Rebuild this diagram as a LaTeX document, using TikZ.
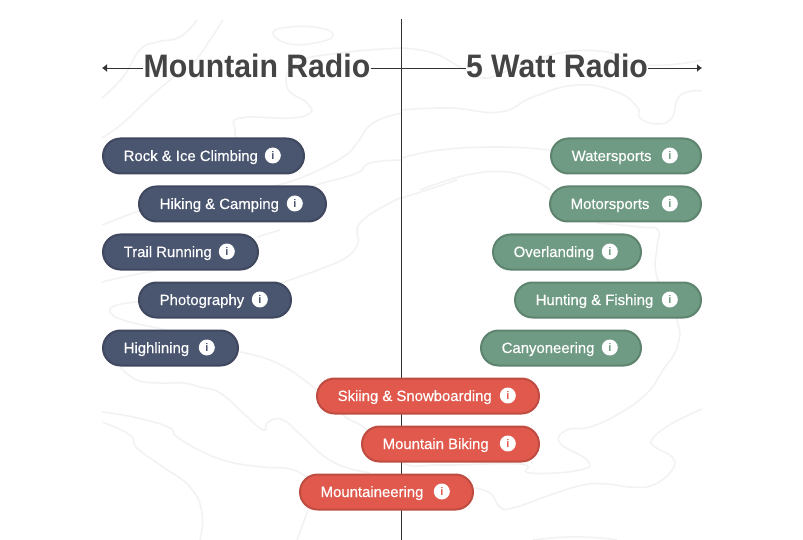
\documentclass[tikz,border=0pt]{standalone}
\usepackage{fontspec}
\setmainfont{Liberation Sans}
\newfontfamily\headfont[FakeStretch=0.93]{Liberation Sans}
\newfontfamily\pillfont[FakeBold=0.35]{Liberation Sans}
\usetikzlibrary{arrows.meta}
\usetikzlibrary{positioning}

\definecolor{pillblue}{HTML}{4A556F}
\definecolor{pillgreen}{HTML}{6F9A83}
\definecolor{pillred}{HTML}{E0594C}
\definecolor{titlegray}{HTML}{444444}
\definecolor{contourgray}{HTML}{F2F2F2}

\tikzset{
  contour/.style={draw=contourgray, line width=1.6pt, smooth, tension=0.8},
  heading/.style={inner sep=0pt, text=titlegray, font=\headfont\fontsize{32.5}{36}\selectfont\bfseries, text height=22pt, text depth=2pt},
  axis/.style={draw=black!80, line width=0.8pt},
  pill/.style={rounded corners=17.5pt, minimum height=35pt, inner sep=0pt, outer sep=0pt, line width=2pt},
  pilltext/.style={inner sep=0pt, text=white, font=\pillfont\fontsize{14.9}{16}\selectfont, text height=11pt, text depth=1pt},
  infodot/.style={circle, fill=white, minimum size=16pt, inner sep=0pt, font=\fontsize{11}{11}\selectfont\bfseries}
}

\begin{document}
\begin{tikzpicture}[x=1pt, y=-1pt]
  \useasboundingbox (0,0) rectangle (803,540);

  % map lines behind everything
  \begin{scope}
    \clip (102,0) rectangle (702,540);
    \draw[contour] plot coordinates {(102,98) (123,77) (140,50) (157,42) (180,37) (197,20)};
    \draw[contour] plot coordinates {(102,138) (123,123) (147,100) (170,80) (193,63) (210,40) (223,20)};
    \draw[contour] plot[smooth cycle] coordinates {(273,33) (290,27) (320,28) (333,35) (320,42) (290,44)};
    \draw[contour] plot coordinates {(402,48) (340,53) (297,63) (287,87) (307,103) (310,113) (290,118) (240,118) (235,130) (237,145)};
    \draw[contour] plot coordinates {(402,113) (373,123) (357,143) (343,157) (303,177) (270,187)};
    \draw[contour] plot coordinates {(402,160) (370,163) (357,173) (323,183) (300,190)};
    \draw[contour] plot coordinates {(402,48) (433,53) (460,67) (483,78) (510,70) (560,53) (607,52) (633,63) (667,65) (702,60)};
    \draw[contour] plot coordinates {(402,110) (450,108) (500,112) (533,97) (577,85) (617,92) (637,107) (640,118) (657,124) (672,118) (677,100) (687,92) (702,91)};
    \draw[contour] plot coordinates {(402,158) (440,150) (500,147) (550,150)};
    \draw[contour] plot coordinates {(420,190) (467,175) (507,172) (533,180) (550,190)};
    \draw[contour] plot coordinates {(402,198) (433,188) (457,180)};
    \draw[contour] plot coordinates {(102,225) (133,213) (150,207)};
    \draw[contour] plot coordinates {(280,230) (257,237)};
    \draw[contour] plot coordinates {(402,197) (377,210) (360,223) (357,233) (358,243) (347,257) (323,268) (290,280) (270,287)};
    \draw[contour] plot coordinates {(102,282) (133,275) (160,270)};
    \draw[contour] plot coordinates {(138,302) (117,305) (110,312) (123,320) (157,328) (170,331)};
    \draw[contour] plot coordinates {(240,352) (277,363) (313,387) (343,415) (367,430) (400,462) (443,465) (520,464) (530,473) (580,470) (587,460) (560,443) (567,430) (590,427) (620,413) (647,393) (663,370) (677,347) (677,320) (657,277) (657,247) (658,230) (640,227) (597,223)};
    \draw[contour] plot coordinates {(120,367) (137,380) (160,383) (183,383) (200,387) (220,393) (243,413) (263,430) (268,422) (283,420) (303,437) (333,462) (370,473)};
    \draw[contour] plot coordinates {(102,412) (133,417) (168,427) (177,437) (203,452) (230,462) (263,467) (290,469) (307,477)};
    \draw[contour] plot coordinates {(102,422) (130,435) (137,448) (163,467) (190,487) (202,513) (200,540)};
    \draw[contour] plot coordinates {(308,510) (297,540)};
    \draw[contour] plot coordinates {(473,488) (490,493) (500,507) (513,508) (550,495) (583,485) (607,484) (630,487) (653,485) (672,470) (672,457) (655,447) (653,438) (673,423) (702,409)};
    \draw[contour] plot coordinates {(533,540) (567,537) (600,538) (617,540)};
  \end{scope}

  \coordinate (top) at (401.5,19);
  \coordinate (bottom) at (401.5,540);
  \coordinate (leftend) at (102,68);
  \coordinate (rightend) at (702,68);

  \node[heading] (mountain) at (257,68) {Mountain Radio};
  \node[heading] (watt) at (557,68) {5 Watt Radio};

  \draw[axis] (top) -- (bottom);
  \draw[axis, -{Latex[length=5pt,width=8pt]}] (mountain.west) -- (leftend);
  \draw[axis] (mountain.east) -- (watt.west);
  \draw[axis, -{Latex[length=5pt,width=8pt]}] (watt.east) -- (rightend);

  \foreach \n/\xa/\xb/\ya/\txt/\col in {
    rock/102/305/156/Rock \& Ice Climbing/pillblue,
    hiking/138/327/204/Hiking \& Camping/pillblue,
    trail/102/259/252/Trail Running/pillblue,
    photo/138/292/300/Photography/pillblue,
    highline/102/239/348/Highlining/pillblue,
    water/550/702/156/Watersports/pillgreen,
    motor/549/702/204/Motorsports/pillgreen,
    overland/492/642/252/Overlanding/pillgreen,
    hunting/514/702/300/Hunting \& Fishing/pillgreen,
    canyon/480/642/348/Canyoneering/pillgreen,
    skiing/316/540/396/Skiing \& Snowboarding/pillred,
    biking/361/540/444/Mountain Biking/pillred,
    mountaineer/299/474/492/Mountaineering/pillred} {
    \pgfmathsetmacro{\pillw}{\xb-\xa-2}
    \node[pill, anchor=west, fill=\col, draw=\col!85!black, minimum width=\pillw pt] (pill\n) at (\xa+1,\ya) {};
    \node[pilltext, right=20.5pt of pill\n.west] (text\n) {\txt};
    \node[infodot, text=\col, left=23pt of pill\n.east, yshift=0.5pt] (info\n) {i};
  }
\end{tikzpicture}
\end{document}
